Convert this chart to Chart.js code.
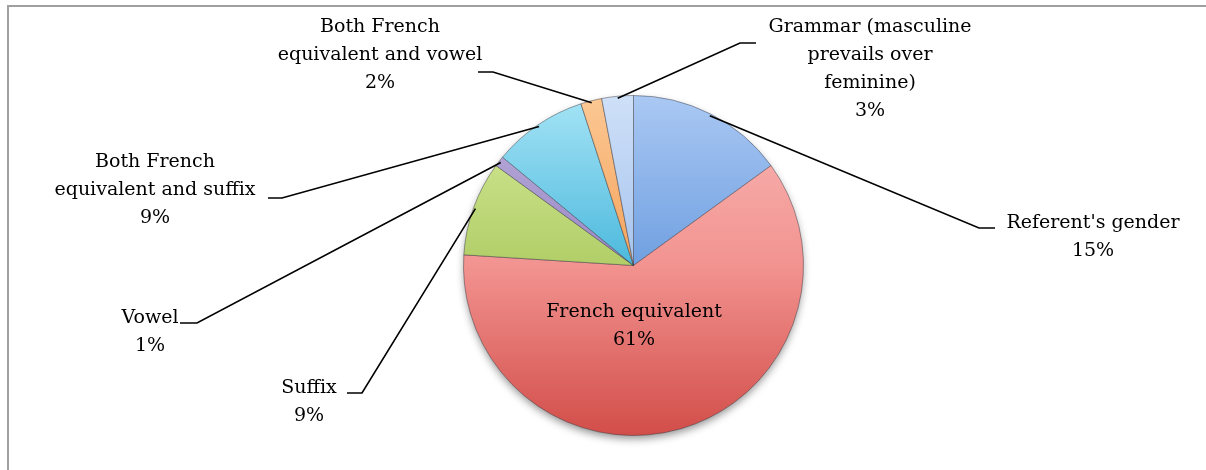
<!DOCTYPE html>
<html>
<head>
<meta charset="utf-8">
<script src="https://cdn.jsdelivr.net/npm/chart.js@4.4.0/dist/chart.umd.min.js"></script>
<style>
  html, body { margin: 0; padding: 0; background: #ffffff; }
  #wrap { width: 1206px; height: 470px; position: relative; }
</style>
</head>
<body>
<div id="wrap"><canvas id="c" width="1206" height="470"></canvas></div>
<script>
// ---- Data ----
const categories = [
  ["Referent's gender"],
  ["French equivalent"],
  ["Suffix"],
  ["Vowel"],
  ["Both French", "equivalent and suffix"],
  ["Both French", "equivalent and vowel"],
  ["Grammar (masculine", "prevails over", "feminine)"]
];
const shares = [15, 61, 9, 1, 9, 2, 3];

// ---- Styles / layout (not data) ----
const palette = [
  ['#aac8f3', '#70a0e1', '#4a7cc6'],
  ['#f9b9b7', '#f29390', '#d24d49'],
  ['#d8ec9c', '#b1ce68', '#90b04b'],
  ['#bdb2dc', '#9a88c6', '#7763a8'],
  ['#a6e4f6', '#4cb9dd', '#2b93bb'],
  ['#fcc894', '#f4a35c', '#d98434'],
  ['#cfe0f8', '#a6c4ee', '#7f9fd4']
];
const FONT_FAMILY = '"DejaVu Serif", "Liberation Serif", serif';
const FONT_SIZE = 19;
const LINE_H = 28;
// label layout: text centre of first line, and leader elbow / end points
const labelLayout = [
  { tx: 1093, ty: 223, elbow: [979, 228], end: [995, 228] },
  { tx: 634,  ty: 312, elbow: null, end: null },
  { tx: 309,  ty: 388, elbow: [362, 393], end: [347, 393] },
  { tx: 150,  ty: 318, elbow: [197, 323], end: [180, 323] },
  { tx: 155,  ty: 162, elbow: [282, 198], end: [268, 198] },
  { tx: 380,  ty: 27,  elbow: [493, 72],  end: [478, 72] },
  { tx: 870,  ty: 27,  elbow: [740, 43],  end: [756, 43] }
];

const framePlugin = {
  id: 'frame',
  beforeDraw(chart) {
    const ctx = chart.ctx;
    ctx.save();
    ctx.strokeStyle = '#a0a0a0';
    ctx.lineWidth = 2;
    ctx.beginPath();
    ctx.moveTo(8, 480);
    ctx.lineTo(8, 6);
    ctx.lineTo(1220, 6);
    ctx.stroke();
    ctx.restore();
  }
};

const shadowPlugin = {
  id: 'pieShadow',
  beforeDatasetsDraw(chart) {
    const meta = chart.getDatasetMeta(0);
    if (!meta.data.length) return;
    const a = meta.data[0].getProps(['x', 'y', 'outerRadius'], true);
    const ctx = chart.ctx;
    ctx.save();
    ctx.shadowColor = 'rgba(0,0,0,0.45)';
    ctx.shadowBlur = 9;
    ctx.shadowOffsetY = 4;
    ctx.fillStyle = '#ffffff';
    ctx.beginPath();
    ctx.arc(a.x, a.y, a.outerRadius - 1, 0, Math.PI * 2);
    ctx.fill();
    ctx.restore();
  }
};

const labelPlugin = {
  id: 'pieLabels',
  afterDatasetsDraw(chart) {
    const ctx = chart.ctx;
    const meta = chart.getDatasetMeta(0);
    const total = shares.reduce((s, v) => s + v, 0);
    ctx.save();
    ctx.font = FONT_SIZE + 'px ' + FONT_FAMILY;
    ctx.textAlign = 'center';
    ctx.textBaseline = 'middle';
    meta.data.forEach((arc, i) => {
      const L = labelLayout[i];
      const p = arc.getProps(['x', 'y', 'startAngle', 'endAngle', 'outerRadius'], true);
      if (L.elbow) {
        const mid = (p.startAngle + p.endAngle) / 2;
        const r = p.outerRadius - 2;
        const sx = p.x + Math.cos(mid) * r;
        const sy = p.y + Math.sin(mid) * r;
        ctx.strokeStyle = '#000000';
        ctx.lineWidth = 1.6;
        ctx.beginPath();
        ctx.moveTo(sx, sy);
        ctx.lineTo(L.elbow[0], L.elbow[1]);
        ctx.lineTo(L.end[0], L.end[1]);
        ctx.stroke();
      }
      const lines = categories[i].concat([Math.round(shares[i] / total * 100) + '%']);
      ctx.fillStyle = '#000000';
      lines.forEach((t, k) => ctx.fillText(t, L.tx, L.ty + k * LINE_H));
    });
    ctx.restore();
  }
};

function sliceFill(ctx) {
  const chart = ctx.chart;
  const area = chart.chartArea;
  if (!area) return palette[ctx.dataIndex][1];
  const c = palette[ctx.dataIndex];
  const g = chart.ctx.createLinearGradient(0, area.top, 0, area.bottom);
  g.addColorStop(0, c[0]);
  g.addColorStop(0.5, c[1]);
  g.addColorStop(1, c[2]);
  return g;
}

new Chart(document.getElementById('c'), {
  type: 'pie',
  data: {
    labels: categories,
    datasets: [{
      data: shares,
      backgroundColor: sliceFill,
      borderColor: 'rgba(50,50,60,0.45)',
      borderWidth: 1
    }]
  },
  options: {
    responsive: false,
    animation: false,
    layout: { padding: { left: 463, right: 402, top: 95, bottom: 34 } },
    plugins: {
      legend: { display: false },
      tooltip: { enabled: false }
    }
  },
  plugins: [framePlugin, shadowPlugin, labelPlugin]
});
</script>
</body>
</html>
